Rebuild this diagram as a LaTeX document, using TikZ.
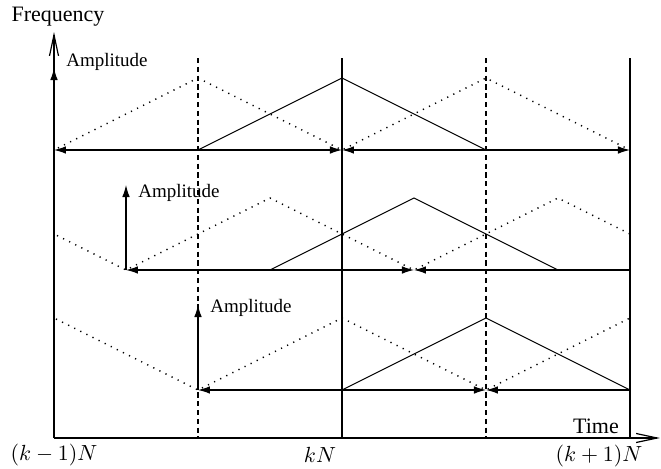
\documentclass[tikz,border=0pt]{standalone}
\usepackage{fontspec}
\setmainfont{Liberation Serif}
\usetikzlibrary{arrows.meta}
\tikzset{
  axisline/.style={line width=0.9pt,-{Straight Barb[length=10.5pt,width=4.5pt,line width=0.6pt]}},
  wave/.style={line width=0.55pt},
  ghost/.style={line width=0.7pt,dash pattern=on 0.6pt off 2.8pt},
  slot/.style={line width=0.55pt,dash pattern=on 2.6pt off 1.8pt},
  span/.style={line width=0.6pt,{Latex[length=6pt,width=3.8pt]}-{Latex[length=6pt,width=3.8pt]}},
  lspan/.style={line width=0.6pt,{Latex[length=6pt,width=3.8pt]}-},
  ampl/.style={line width=0.6pt,-{Latex[length=6pt,width=3.8pt]}},
  amptext/.style={font=\fontsize{9.5}{11}\selectfont,anchor=west,inner sep=0pt},
  bigtext/.style={font=\fontsize{11}{13}\selectfont,inner sep=0pt},
}
\begin{document}
\begin{tikzpicture}[x=0.5pt,y=0.5pt]
  \useasboundingbox (0,0) rectangle (661,468);
  \coordinate (o) at (54,30);
  \draw[axisline] (o) -- (54,436) coordinate (ftop);
  \draw[axisline] (o) -- (660,30) coordinate (ttop);
  \foreach \x in {198,486} \draw[slot] (\x,410) -- (\x,30);
  \foreach \x in {342,630} \draw[wave] (\x,410) -- (\x,30);
  \foreach \b/\p in {318/342,198/414,78/486} {
    \begin{scope}
      \clip (54,0) rectangle (630,468);
      \draw[ghost] (\p-576,\b) -- ++(144,72) -- ++(144,-72) -- ++(144,72)
        -- ++(144,-72) -- ++(144,72) -- ++(144,-72) -- ++(144,72);
      \draw[wave] (\p-144,\b) -- ++(144,72) -- ++(144,-72);
    \end{scope}
  }
  \coordinate (a1) at (54,318);  \coordinate (m1) at (342,318); \coordinate (e1) at (630,318);
  \coordinate (a2) at (126,198); \coordinate (m2) at (414,198); \coordinate (e2) at (630,198);
  \coordinate (a3) at (198,78);  \coordinate (m3) at (486,78);  \coordinate (e3) at (630,78);
  \draw[span] (a1) -- (m1);
  \draw[span] (m1) -- (e1);
  \draw[span] (a2) -- (m2);
  \draw[lspan] (m2) -- (e2);
  \draw[span] (a3) -- (m3);
  \draw[lspan] (m3) -- (e3);
  \draw[ampl] (a1) -- ++(0,82);
  \draw[ampl] (a2) -- ++(0,85);
  \draw[ampl] (a3) -- ++(0,85);
  \node[amptext] (amp1) at (66,406) {Amplitude};
  \node[amptext] (amp2) at (138,275) {Amplitude};
  \node[amptext] (amp3) at (210,160) {Amplitude};
  \node[bigtext] (freq) at (58,451) {Frequency};
  \node[bigtext] (time) at (596,42) {Time};
  \node[bigtext] (t0) at (54,13) {$(k-1)N$};
  \node[bigtext] (t1) at (320,13) {$kN$};
  \node[bigtext] (t2) at (599,12) {$(k+1)N$};
\end{tikzpicture}
\end{document}
